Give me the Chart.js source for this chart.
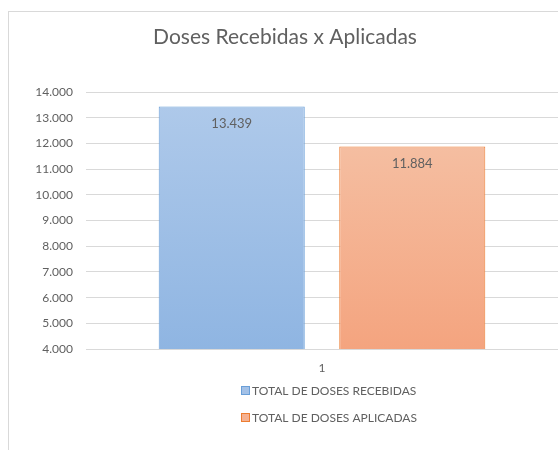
<!DOCTYPE html>
<html>
<head>
<meta charset="utf-8">
<script src="https://cdn.jsdelivr.net/npm/chart.js@4"></script>
<style>
  html, body { margin: 0; padding: 0; background: #fff; }
  #wrap { position: relative; width: 558px; height: 450px; overflow: hidden; }
  #frame { position: absolute; left: 8px; top: 11px; width: 600px; height: 500px; border: 1px solid #d9d9d9; box-sizing: border-box; }
  canvas { position: absolute; left: 0; top: 0; }
</style>
</head>
<body>
<div id="wrap">
  <div id="frame"></div>
  <canvas id="c" width="558" height="450"></canvas>
</div>
<script>
const categories = ['1'];
const seriesNames = ['TOTAL DE DOSES RECEBIDAS', 'TOTAL DE DOSES APLICADAS'];
const recebidas = [13439];
const aplicadas = [11884];
const yTicks = [4000, 5000, 6000, 7000, 8000, 9000, 10000, 11000, 12000, 13000, 14000];
const chartTitle = 'Doses Recebidas x Aplicadas';

const FONT = 'Lato, "Open Sans", sans-serif';
const TXT = '#606060';

function fmt(v) {
  const s = Math.round(v).toString();
  return s.replace(/\B(?=(\d{3})+(?!\d))/g, '.');
}

function barGradient(ctx, topCol, botCol) {
  const chart = ctx.chart;
  const area = chart.chartArea;
  if (!area) return topCol;
  const v = ctx.raw;
  const y = chart.scales.y;
  const top = y.getPixelForValue(v);
  const g = chart.ctx.createLinearGradient(0, top, 0, area.bottom);
  g.addColorStop(0, topCol);
  g.addColorStop(1, botCol);
  return g;
}

const valueLabels = {
  id: 'valueLabels',
  afterDatasetsDraw(chart) {
    const ctx = chart.ctx;
    ctx.save();
    ctx.font = '13px ' + FONT;
    ctx.fillStyle = TXT;
    ctx.textAlign = 'center';
    ctx.textBaseline = 'middle';
    chart.data.datasets.forEach((ds, di) => {
      const meta = chart.getDatasetMeta(di);
      meta.data.forEach((bar, i) => {
        ctx.fillText(fmt(ds.data[i]), bar.x, bar.y + 17);
      });
    });
    ctx.restore();
  }
};

const vLegend = {
  id: 'vLegend',
  afterDraw(chart) {
    const ctx = chart.ctx;
    ctx.save();
    ctx.font = '12px ' + FONT;
    const widths = chart.data.datasets.map(d => ctx.measureText(d.label).width);
    const maxW = Math.max(...widths);
    const blockW = 8 + 3 + maxW;
    const cx = 329;
    const x0 = Math.round(cx - blockW / 2);
    const rows = [391, 418];
    chart.data.datasets.forEach((d, i) => {
      const yy = rows[i];
      ctx.fillStyle = d.legendFill;
      ctx.fillRect(x0 + 0.5, yy - 4.5, 8, 8);
      ctx.strokeStyle = d.borderColor;
      ctx.lineWidth = 1;
      ctx.strokeRect(x0 + 0.5, yy - 4.5, 8, 8);
      ctx.fillStyle = TXT;
      ctx.textAlign = 'left';
      ctx.textBaseline = 'middle';
      ctx.fillText(d.label, x0 + 11, yy);
    });
    ctx.restore();
  }
};

new Chart(document.getElementById('c'), {
  type: 'bar',
  data: {
    labels: categories,
    datasets: [
      {
        label: seriesNames[0],
        data: recebidas,
        backgroundColor: (ctx) => barGradient(ctx, '#aec9ea', '#8fb5e2'),
        borderColor: '#6a9fd8',
        legendFill: '#a3c1e7',
        borderWidth: 1,
        borderSkipped: false
      },
      {
        label: seriesNames[1],
        data: aplicadas,
        backgroundColor: (ctx) => barGradient(ctx, '#f5bea1', '#f4a47f'),
        borderColor: '#ed7d31',
        legendFill: '#f5b292',
        borderWidth: 1,
        borderSkipped: false
      }
    ]
  },
  options: {
    responsive: false,
    animation: false,
    devicePixelRatio: 1,
    layout: { padding: { top: 0, right: 0, bottom: 0, left: 12 } },
    categoryPercentage: 0.765,
    barPercentage: 0.809,
    plugins: {
      legend: { display: false },
      tooltip: { enabled: false },
      title: {
        display: true,
        text: chartTitle,
        color: TXT,
        font: { family: FONT, size: 21, weight: 'normal' },
        padding: { top: 25, bottom: 42 }
      }
    },
    scales: {
      x: {
        grid: { display: false, drawTicks: false },
        border: { display: false },
        ticks: { color: TXT, font: { family: FONT, size: 12 }, padding: 12 },
        afterFit(scale) { scale.height = 101; }
      },
      y: {
        min: 4000,
        max: 14000,
        afterBuildTicks(scale) { scale.ticks = yTicks.map(v => ({ value: v })); },
        grid: { color: '#d9d9d9', lineWidth: 1, drawTicks: false },
        border: { display: false },
        ticks: { color: TXT, font: { family: FONT, size: 12 }, padding: 13, callback: (v) => fmt(v) },
        afterFit(scale) { scale.width = 74; }
      }
    }
  },
  plugins: [valueLabels, vLegend]
});
</script>
</body>
</html>
